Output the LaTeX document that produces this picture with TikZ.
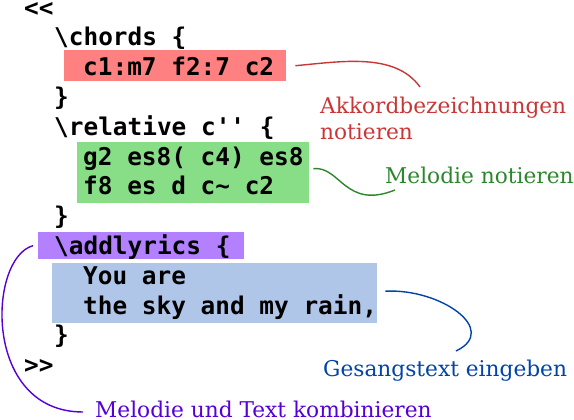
\documentclass[tikz,border=0pt]{standalone}
\usepackage{fontspec}
\usepackage{xcolor}
\usepackage{tikz}
\newfontfamily\codefont{DejaVu Sans Mono}
\newfontfamily\notefont{DejaVu Serif}
\definecolor{chordfill}{HTML}{FF8080}
\definecolor{melodyfill}{HTML}{87DE87}
\definecolor{bindfill}{HTML}{B380FF}
\definecolor{lyricsfill}{HTML}{AFC6E9}
\definecolor{chordnote}{HTML}{C83737}
\definecolor{melodynote}{HTML}{2D862D}
\definecolor{bindnote}{HTML}{5500D4}
\definecolor{lyricsnote}{HTML}{0044AA}
\tikzset{code/.style={anchor=base west,inner sep=0pt,
    font=\codefont\bfseries\fontsize{24.4}{29.8}\selectfont},
    hilite/.style={anchor=north west,inner sep=0pt},
    note/.style={anchor=base west,inner sep=0pt,align=left,
    font=\notefont\fontsize{21.7}{27}\selectfont},
    link/.style={line width=1.4pt}}

\begin{document}
\begin{tikzpicture}[x=1pt,y=-1pt]
\useasboundingbox (0,0) rectangle (574,420);
% highlighted parts
\node[hilite,fill=chordfill,minimum width=222pt,minimum height=31pt] (chordbox) at (64,50) {};
\node[hilite,fill=melodyfill,minimum width=232pt,minimum height=61pt] (melodybox) at (77,142) {};
\node[hilite,fill=bindfill,minimum width=206pt,minimum height=27pt] (bindbox) at (38,232) {};
\node[hilite,fill=lyricsfill,minimum width=325pt,minimum height=60pt] (lyricsbox) at (52,263) {};
% the code
\node[code] (ltop) at (24,16.5) {<<};
\node[code] (chords) at (54,45.8) {\textbackslash chords \{};
\node[code] (chordnotes) at (83,75.6) {c1:m7 f2:7 c2};
\node[code] (chordsend) at (54,105.4) {\}};
\node[code] (relative) at (54,135.2) {\textbackslash relative c'' \{};
\node[code] (melodyA) at (83,165) {g2 es8( c4) es8};
\node[code] (melodyB) at (83,194.8) {f8 es d c\string~ c2};
\node[code] (relativeend) at (54,224.6) {\}};
\node[code] (addlyrics) at (54,254.4) {\textbackslash addlyrics \{};
\node[code] (lyricsA) at (83,284.2) {You are};
\node[code] (lyricsB) at (83,314) {the sky and my rain,};
\node[code] (lyricsend) at (54,343.8) {\}};
\node[code] (lbottom) at (24,373.6) {>>};
% notes
\node[note,text=chordnote] (chordlabel) at (320,140) {Akkordbezeichnungen\\notieren};
\node[note,text=melodynote] (melodylabel) at (385,183) {Melodie notieren};
\node[note,text=lyricsnote] (lyricslabel) at (323,376) {Gesangstext eingeben};
\node[note,text=bindnote] (bindlabel) at (95,417) {Melodie und Text kombinieren};
\coordinate (chordtip) at (420,87);
\coordinate (melodytip) at (395,190);
\coordinate (lyricstip) at (456,351);
\coordinate (bindtip) at (83,412);
% connectors
\draw[link,chordnote] ([xshift=9pt]chordbox.east) .. controls +(45,-4) and +(-25,-35) .. (chordtip);
\draw[link,melodynote] ([shift={(4,-4)}]melodybox.east) .. controls +(27,-3) and +(-50,20) .. (melodytip);
\draw[link,lyricsnote] ([shift={(8,-2)}]lyricsbox.east) .. controls +(55,-3) and +(44,-21) .. (lyricstip);
\draw[link,bindnote] ([xshift=-5pt]bindbox.west) .. controls +(-45,12) and +(-101,0) .. (bindtip);
\end{tikzpicture}
\end{document}
